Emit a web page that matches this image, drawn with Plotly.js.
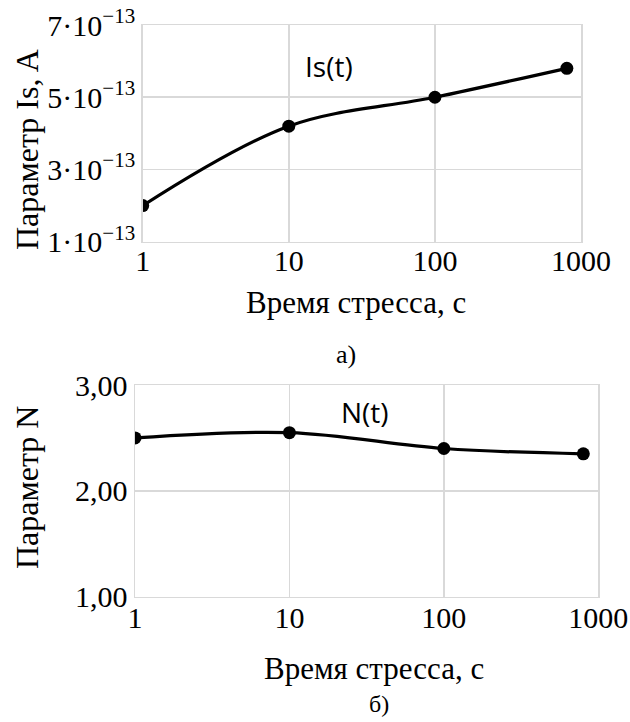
<!DOCTYPE html>
<html>
<head>
<meta charset="utf-8">
<script src="https://cdn.plot.ly/plotly-3.0.1.min.js"></script>
<style>html,body{margin:0;padding:0;background:#fff;}#chart{width:630px;height:722px;}</style>
</head>
<body>
<div id="chart"></div>
<script>
// Data
const stressTime = [1, 10, 100, 800];
const isValues = [2.0e-13, 4.2e-13, 5.0e-13, 5.8e-13];
const nValues = [2.50, 2.55, 2.40, 2.35];
const xTickVals = [1, 10, 100, 1000];
const xTickText = ['1', '10', '100', '1000'];
const isTickVals = [1e-13, 3e-13, 5e-13, 7e-13];
const isTickText = ['1·10<sup>−13</sup>', '3·10<sup>−13</sup>', '5·10<sup>−13</sup>', '7·10<sup>−13</sup>'];
const nTickVals = [1, 2, 3];
const nTickText = ['1,00', '2,00', '3,00'];

const serif = 'Liberation Serif, Times New Roman, serif';
const sans = 'Open Sans, Liberation Sans, sans-serif';
const W = 630, H = 722;
const px = v => v / W;
const py = v => 1 - v / H;

const lineStyle = {color: '#000', width: 3.2, shape: 'spline', smoothing: 1};
const markerStyle = {color: '#000', size: 13};

const traces = [
  {x: stressTime, y: isValues, xaxis: 'x', yaxis: 'y', mode: 'lines+markers', line: lineStyle, marker: markerStyle, name: 'Is(t)'},
  {x: stressTime, y: nValues, xaxis: 'x2', yaxis: 'y2', mode: 'lines+markers', line: lineStyle, marker: markerStyle, name: 'N(t)'}
];

const gridCol = '#d9d9d9';
const xBase = {
  type: 'log', range: [0, 3], tickmode: 'array', tickvals: xTickVals, ticktext: xTickText,
  showgrid: true, gridcolor: gridCol, gridwidth: 1.5, showline: true, linecolor: gridCol, linewidth: 1.5, mirror: true,
  zeroline: false, ticks: '', tickfont: {family: serif, size: 30, color: '#000'}, fixedrange: true
};
const yBase = {
  showgrid: true, gridcolor: gridCol, gridwidth: 1.5, showline: true, linecolor: gridCol, linewidth: 1.5, mirror: true,
  zeroline: false, ticks: '', tickmode: 'array', tickfont: {family: serif, size: 30, color: '#000'}, fixedrange: true
};

const layout = {
  width: W, height: H,
  margin: {l: 0, r: 0, t: 0, b: 0},
  paper_bgcolor: '#fff', plot_bgcolor: '#fff',
  showlegend: false,
  xaxis: Object.assign({}, xBase, {domain: [px(142.7), px(581)], anchor: 'y', ticklabelstandoff: -8}),
  yaxis: Object.assign({}, yBase, {domain: [py(241.7), py(25)], anchor: 'x', range: [1e-13, 7e-13], tickvals: isTickVals, ticktext: isTickText}),
  xaxis2: Object.assign({}, xBase, {domain: [px(135), px(598.3)], anchor: 'y2', ticklabelstandoff: -6}),
  yaxis2: Object.assign({}, yBase, {domain: [py(596.7), py(385)], anchor: 'x2', range: [1, 3], tickvals: nTickVals, ticktext: nTickText}),
  annotations: [
    {text: 'Параметр Is, A', x: px(27), y: py(150), xref: 'paper', yref: 'paper', textangle: -90, showarrow: false, font: {family: serif, size: 32, color: '#000'}, xanchor: 'center', yanchor: 'middle'},
    {text: 'Время стресса, с', x: px(356), y: py(302), xref: 'paper', yref: 'paper', showarrow: false, font: {family: serif, size: 31, color: '#000'}, xanchor: 'center', yanchor: 'middle'},
    {text: 'а)', x: px(346), y: py(354), xref: 'paper', yref: 'paper', showarrow: false, font: {family: serif, size: 26, color: '#000'}, xanchor: 'center', yanchor: 'middle'},
    {text: 'Is(t)', x: px(329), y: py(66), xref: 'paper', yref: 'paper', showarrow: false, font: {family: sans, size: 28, color: '#000'}, xanchor: 'center', yanchor: 'middle'},
    {text: 'Параметр N', x: px(27), y: py(488), xref: 'paper', yref: 'paper', textangle: -90, showarrow: false, font: {family: serif, size: 32, color: '#000'}, xanchor: 'center', yanchor: 'middle'},
    {text: 'Время стресса, с', x: px(374), y: py(668), xref: 'paper', yref: 'paper', showarrow: false, font: {family: serif, size: 31, color: '#000'}, xanchor: 'center', yanchor: 'middle'},
    {text: 'б)', x: px(379), y: py(704), xref: 'paper', yref: 'paper', showarrow: false, font: {family: serif, size: 24, color: '#000'}, xanchor: 'center', yanchor: 'middle'},
    {text: 'N(t)', x: px(365), y: py(412), xref: 'paper', yref: 'paper', showarrow: false, font: {family: sans, size: 28, color: '#000'}, xanchor: 'center', yanchor: 'middle'}
  ]
};

Plotly.newPlot('chart', traces, layout, {staticPlot: true, displayModeBar: false});
</script>
</body>
</html>
